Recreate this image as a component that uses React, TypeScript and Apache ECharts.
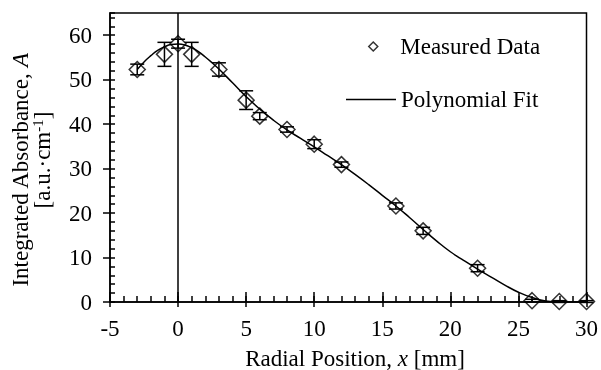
import { useEffect, useRef } from 'react';
import * as echarts from 'echarts';

// Measured radial profile (x in mm, integrated absorbance, ± uncertainty)
const positions = [-3, -1, 0, 1, 3, 5, 6, 8, 10, 12, 16, 18, 22, 26, 28, 30];
const absorbance = [52.3, 55.7, 58.1, 55.7, 52.3, 45.4, 41.8, 38.8, 35.5, 30.9, 21.6, 16.0, 7.6, 0.3, 0.1, 0.1];
const uncertainty = [1.2, 2.7, 1.0, 2.7, 1.5, 2.1, 0.8, 0.6, 1.0, 0.6, 0.7, 0.8, 0.8, 0.3, 0.2, 0.2];

// Polynomial fit, sampled along x
const fitX = [-3, -2.5, -2, -1.5, -1, -0.5, 0, 0.5, 1, 1.5, 2, 2.5, 3, 4, 5, 6, 7, 8, 9, 10, 11, 12, 13, 14, 15, 16, 17, 18, 19, 20, 21, 22, 23, 24, 25, 26, 27, 28, 29, 30];
const fitY = [52.3, 54.0, 55.4, 56.6, 57.4, 57.9, 58.0, 57.8, 57.2, 56.3, 55.1, 53.8, 52.4, 49.3, 46.2, 43.4, 40.9, 38.7, 36.8, 34.9, 32.9, 30.9, 28.7, 26.4, 24.0, 21.6, 19.0, 16.3, 13.7, 11.3, 9.3, 7.4, 5.6, 3.8, 2.2, 1.0, 0.2, 0, 0, 0];

const xTicks = { min: -5, max: 30, step: 5 };
const yTicks = { min: 0, max: 65, step: 10 };

const FONT = "'Liberation Serif', 'Times New Roman', serif";
const FS = 23;
const INK = '#000';

export default function App() {
  const ref = useRef<HTMLDivElement>(null);

  useEffect(() => {
    if (!ref.current) return;
    const chart = echarts.init(ref.current, undefined, { renderer: 'svg' });

    const measured = positions.map((x, i) => [x, absorbance[i]]);
    const bars = positions.map((x, i) => [x, absorbance[i] - uncertainty[i], absorbance[i] + uncertainty[i]]);
    const fit = fitX.map((x, i) => [x, fitY[i]]);

    const baseX = { type: 'value', min: xTicks.min, max: xTicks.max, position: 'bottom', splitLine: { show: false } };
    const baseY = { type: 'value', min: yTicks.min, max: yTicks.max, position: 'left', splitLine: { show: false } };

    chart.setOption({
      animation: false,
      grid: {
        left: 110, right: 14, top: 13, bottom: 68,
        show: true, borderColor: INK, borderWidth: 1.5, backgroundColor: 'transparent',
      },
      xAxis: [
        {
          ...baseX, interval: xTicks.step,
          axisLine: { show: true, onZero: false, lineStyle: { color: INK, width: 1.5 } },
          axisTick: { show: true, inside: false, length: 5, lineStyle: { color: INK, width: 1.5 } },
          axisLabel: { color: INK, fontFamily: FONT, fontSize: FS, margin: 15 },
        },
        {
          ...baseX, interval: 1,
          axisLine: { show: false, onZero: false },
          axisTick: { show: true, inside: true, length: 6, lineStyle: { color: INK, width: 1.5 } },
          axisLabel: { show: false },
        },
        {
          ...baseX, interval: xTicks.step,
          axisLine: { show: false, onZero: false },
          axisTick: { show: true, inside: true, length: 10, lineStyle: { color: INK, width: 1.5 } },
          axisLabel: { show: false },
        },
      ],
      yAxis: [
        {
          ...baseY, interval: yTicks.step,
          axisLine: { show: true, onZero: false, lineStyle: { color: INK, width: 1.5 } },
          axisTick: { show: true, inside: false, length: 7, lineStyle: { color: INK, width: 1.5 } },
          axisLabel: { color: INK, fontFamily: FONT, fontSize: FS, margin: 18, showMaxLabel: false },
        },
        {
          ...baseY, interval: 2,
          axisLine: { show: false, onZero: false },
          axisTick: { show: true, inside: true, length: 5, lineStyle: { color: INK, width: 1.5 } },
          axisLabel: { show: false },
        },
      ],
      legend: [
        {
          data: [{
            name: 'Measured Data',
            icon: 'path://M5,0L10,5L5,10L0,5Z',
            itemStyle: { color: 'rgba(0,0,0,0)', borderColor: INK, borderWidth: 1.5 },
          }],
          left: 363, top: 30, itemWidth: 44, itemHeight: 9, symbolKeepAspect: true,
          textStyle: { color: INK, fontFamily: FONT, fontSize: FS },
          selectedMode: false,
        },
        {
          data: [{ name: 'Polynomial Fit', icon: 'rect', itemStyle: { color: INK } }],
          left: 341, top: 83, itemWidth: 50, itemHeight: 1.5,
          textStyle: { color: INK, fontFamily: FONT, fontSize: FS },
          selectedMode: false,
        },
      ],
      graphic: [
        {
          type: 'text', x: 20, y: 170, rotation: Math.PI / 2,
          style: {
            text: '{n|Integrated Absorbance, }{i|A}',
            align: 'center', verticalAlign: 'middle', fill: INK,
            rich: {
              n: { fontFamily: FONT, fontSize: FS, fill: INK },
              i: { fontFamily: FONT, fontSize: FS, fontStyle: 'italic', fill: INK },
            },
          },
        },
        {
          type: 'text', x: 42, y: 160, rotation: Math.PI / 2,
          style: {
            text: '{n|[a.u.·cm}{s|-1}{n|]}',
            align: 'center', verticalAlign: 'middle', fill: INK,
            rich: {
              n: { fontFamily: FONT, fontSize: FS, fill: INK },
              s: { fontFamily: FONT, fontSize: 15, fill: INK, verticalAlign: 'top' },
            },
          },
        },
        {
          type: 'text', x: 355, y: 358,
          style: {
            text: '{n|Radial Position, }{i|x}{n| [mm]}',
            align: 'center', verticalAlign: 'middle', fill: INK,
            rich: {
              n: { fontFamily: FONT, fontSize: FS, fill: INK },
              i: { fontFamily: FONT, fontSize: FS, fontStyle: 'italic', fill: INK },
            },
          },
        },
      ],
      series: [
        {
          name: 'Polynomial Fit',
          type: 'line',
          data: fit,
          smooth: true,
          showSymbol: false,
          symbol: 'none',
          color: INK,
          lineStyle: { color: INK, width: 1.5 },
          markLine: {
            silent: true,
            symbol: 'none',
            label: { show: false },
            lineStyle: { color: INK, width: 1.5, type: 'solid' },
            data: [{ xAxis: 0 }],
          },
          z: 2,
        },
        {
          name: 'Error',
          type: 'custom',
          data: bars,
          encode: { x: 0, y: [1, 2] },
          clip: false,
          renderItem: (params: any, api: any) => {
            const x = api.value(0);
            const lo = api.coord([x, api.value(1)]);
            const hi = api.coord([x, api.value(2)]);
            const w = 7;
            const style = { stroke: INK, lineWidth: 1.5 };
            return {
              type: 'group',
              children: [
                { type: 'line', shape: { x1: lo[0], y1: lo[1], x2: hi[0], y2: hi[1] }, style },
                { type: 'line', shape: { x1: lo[0] - w, y1: lo[1], x2: lo[0] + w, y2: lo[1] }, style },
                { type: 'line', shape: { x1: hi[0] - w, y1: hi[1], x2: hi[0] + w, y2: hi[1] }, style },
              ],
            };
          },
          z: 3,
        },
        {
          name: 'Measured Data',
          type: 'scatter',
          data: measured,
          symbol: 'diamond',
          symbolSize: 16,
          clip: false,
          itemStyle: { color: 'rgba(0,0,0,0)', borderColor: INK, borderWidth: 1.5 },
          z: 4,
        },
      ],
    });

    return () => chart.dispose();
  }, []);

  return <div ref={ref} style={{ position: 'fixed', left: 0, top: 0, width: 601, height: 370 }} />;
}
